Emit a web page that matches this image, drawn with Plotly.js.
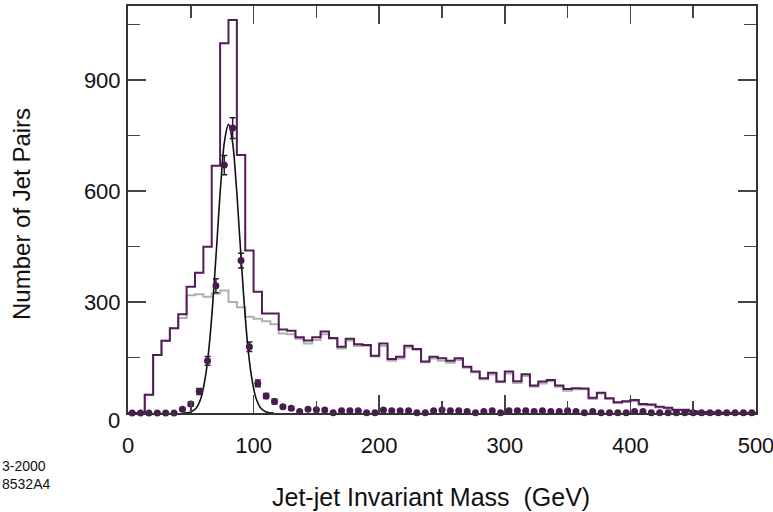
<!DOCTYPE html>
<html>
<head>
<meta charset="utf-8">
<script src="https://cdn.plot.ly/plotly-3.0.1.min.js"></script>
<style>
  html, body { margin: 0; padding: 0; background: #fff; }
  #chart { width: 773px; height: 512px; }
</style>
</head>
<body>
<div id="chart"></div>
<script>
// ---- data ----
const massMin = 0;
const massMax = 500;
const nBins = 75;

// all jet pairs (purple histogram)
const allPairs = [
  0, 0, 49, 157, 195, 229, 267, 341, 379, 449,
  668, 999, 1062, 697, 439, 328, 269, 269, 226, 222,
  205, 196, 205, 220, 203, 179, 201, 186, 184, 155,
  188, 146, 152, 182, 173, 139, 152, 148, 141, 148,
  125, 112, 94, 109, 85, 112, 86, 105, 74, 85,
  89, 74, 65, 67, 66, 41, 55, 40, 29, 32,
  35, 24, 23, 17, 14, 9, 9, 5, 3, 2,
  1, 0, 0, 0, 0
];

// background pairs (grey histogram)
const background = [
  0, 0, 49, 157, 195, 229, 257, 318, 321, 314,
  323, 331, 300, 286, 260, 255, 248, 240, 215, 213,
  201, 188, 197, 213, 201, 174, 196, 181, 182, 153,
  181, 141, 147, 177, 171, 137, 147, 141, 136, 143,
  122, 110, 91, 104, 83, 107, 81, 100, 71, 80,
  86, 71, 60, 64, 64, 38, 53, 38, 27, 30,
  32, 21, 21, 15, 12, 7, 7, 4, 2, 1,
  0, 0, 0, 0, 0
];

// signal pairs (points)
const signal = [
  0, 0, 0, 0, 0, 0, 10, 24, 58, 141,
  344, 670, 770, 412, 179, 80, 46, 31, 17, 13,
  4, 10, 9, 8, 1, 6, 6, 6, 1, 1,
  8, 6, 6, 6, 1, 1, 6, 8, 6, 6,
  4, 1, 4, 6, 1, 6, 6, 6, 4, 6,
  4, 4, 6, 4, 1, 4, 1, 1, 1, 1,
  4, 4, 1, 1, 1, 1, 1, 1, 1, 1,
  1, 1, 1, 1, 1
];

// error on the signal points
const signalErr = [
  0, 0, 0, 0, 0, 0, 3, 5, 8, 12,
  19, 26, 28, 20, 13, 9, 7, 6, 4, 4,
  0, 0, 0, 0, 0, 0, 0, 0, 0, 0,
  0, 0, 0, 0, 0, 0, 0, 0, 0, 0,
  0, 0, 0, 0, 0, 0, 0, 0, 0, 0,
  0, 0, 0, 0, 0, 0, 0, 0, 0, 0,
  0, 0, 0, 0, 0, 0, 0, 0, 0, 0,
  0, 0, 0, 0, 0
];

// fitted curve
const fitMass = [44, 50, 54, 58, 62, 65, 68, 71, 74, 77, 80, 83, 86, 89, 92, 95, 98, 102, 106, 110, 116];
const fitPairs = [0, 3, 12, 39, 106, 194, 321, 473, 625, 738, 780, 738, 625, 473, 321, 194, 106, 39, 12, 3, 0];

const xTickVals = [0, 100, 200, 300, 400, 500];
const xTickText = ['0', '100', '200', '300', '400', '500'];
const yTickVals = [0, 300, 600, 900];
const yTickText = ['', '300', '600', '900'];
const yZeroLabel = '0';

const xTitle = 'Jet-jet Invariant Mass  (GeV)';
const yTitle = 'Number of Jet Pairs';
const noteLines = ['3-2000', '8532A4'];

// ---- build traces ----
const binWidth = (massMax - massMin) / nBins;
const edges = [];
for (let i = 0; i <= nBins; i++) edges.push(massMin + i * binWidth);
const centers = [];
for (let i = 0; i < nBins; i++) centers.push(massMin + (i + 0.5) * binWidth);

function stepY(vals) { return vals.concat([vals[vals.length - 1]]); }

const FONT = '"Liberation Sans", Arial, Helvetica, sans-serif';
const PURPLE = '#531c59';
const DOT = '#4b1a52';
const INK = '#111111';

const traces = [
  {
    type: 'scatter', mode: 'lines', x: edges, y: stepY(background),
    line: { shape: 'hv', color: '#b0b0b0', width: 2 }, hoverinfo: 'skip', showlegend: false
  },
  {
    type: 'scatter', mode: 'lines', x: edges, y: stepY(allPairs),
    line: { shape: 'hv', color: PURPLE, width: 2 }, hoverinfo: 'skip', showlegend: false
  },
  {
    type: 'scatter', mode: 'lines', x: fitMass, y: fitPairs,
    line: { shape: 'spline', smoothing: 1, color: INK, width: 1.6 }, showlegend: false
  },
  {
    type: 'scatter', mode: 'markers', x: centers, y: signal, cliponaxis: false,
    marker: { symbol: 'circle', size: 7, color: DOT },
    error_y: { type: 'data', array: signalErr, visible: true, color: '#222222', thickness: 1.5, width: 3 },
    showlegend: false
  }
];

const axisCommon = {
  showline: true, linecolor: '#333333', linewidth: 2, mirror: 'allticks',
  ticks: 'inside', ticklen: 18, tickwidth: 1.5, tickcolor: '#444444',
  showgrid: false, zeroline: false, ticklabeloverflow: 'allow',
  tickfont: { family: FONT, size: 22, color: INK }
};

const layout = {
  width: 773, height: 512,
  margin: { l: 128, r: 17, t: 6, b: 99 },
  paper_bgcolor: '#ffffff', plot_bgcolor: '#ffffff',
  showlegend: false,
  xaxis: Object.assign({}, axisCommon, {
    range: [massMin, massMax],
    tickmode: 'array', tickvals: xTickVals, ticktext: xTickText,
    minor: { dtick: 50, tick0: 0, ticks: 'inside', ticklen: 12, tickwidth: 1.5, tickcolor: '#444444', showgrid: false },
    ticklabelstandoff: 12
  }),
  yaxis: Object.assign({}, axisCommon, {
    range: [0, 1100],
    tickmode: 'array', tickvals: yTickVals, ticktext: yTickText,
    minor: { dtick: 150, tick0: 0, ticks: 'inside', ticklen: 12, tickwidth: 1.5, tickcolor: '#444444', showgrid: false },
    ticklabelstandoff: 1
  }),
  annotations: [
    { text: xTitle, xref: 'paper', yref: 'paper', x: 0.4825, y: -0.2064, xanchor: 'center', yanchor: 'middle', showarrow: false,
      font: { family: FONT, size: 25, color: INK } },
    { text: yTitle, xref: 'paper', yref: 'paper', x: -0.1688, y: 0.489, xanchor: 'center', yanchor: 'middle', textangle: -90, showarrow: false,
      font: { family: FONT, size: 24, color: INK } },
    { text: yZeroLabel, xref: 'paper', yref: 'y', x: 0, y: 0, xanchor: 'right', yanchor: 'middle', xshift: -6, yshift: -7, showarrow: false,
      font: { family: FONT, size: 22, color: INK } },
    { text: noteLines[0], xref: 'paper', yref: 'paper', x: -0.204, y: -0.13, xanchor: 'left', yanchor: 'middle', showarrow: false,
      font: { family: FONT, size: 14, color: INK } },
    { text: noteLines[1], xref: 'paper', yref: 'paper', x: -0.204, y: -0.174, xanchor: 'left', yanchor: 'middle', showarrow: false,
      font: { family: FONT, size: 14, color: INK } }
  ]
};

Plotly.newPlot('chart', traces, layout, { staticPlot: true, displayModeBar: false });
</script>
</body>
</html>
